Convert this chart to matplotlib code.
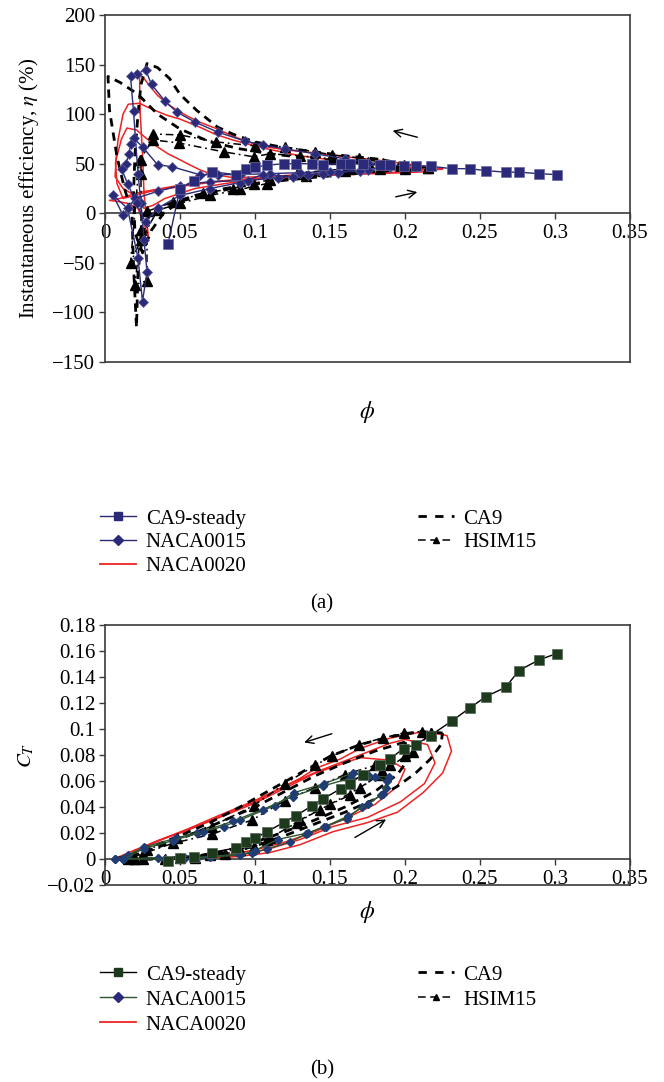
import matplotlib
matplotlib.use("Agg")
import matplotlib.pyplot as plt
from matplotlib.lines import Line2D

plt.rcParams['font.family'] = ['Liberation Serif', 'DejaVu Serif']
plt.rcParams['mathtext.fontset'] = 'stix'
plt.rcParams['font.size'] = 15

# ---------------- data: panel (a) efficiency ----------------
xticks = [0, 0.05, 0.1, 0.15, 0.2, 0.25, 0.3, 0.35]
xtick_labels = ['0', '0.05', '0.1', '0.15', '0.2', '0.25', '0.3', '0.35']
a_yticks = [-150, -100, -50, 0, 50, 100, 150, 200]
a_ytick_labels = ['\u2212150', '\u2212100', '\u221250', '0', '50', '100', '150', '200']
b_yticks = [-0.02, 0, 0.02, 0.04, 0.06, 0.08, 0.1, 0.12, 0.14, 0.16, 0.18]
b_ytick_labels = ['\u22120.02', '0', '0.02', '0.04', '0.06', '0.08', '0.1', '0.12', '0.14', '0.16', '0.18']

steady_phi = [0.042, 0.050, 0.059, 0.071, 0.087, 0.094, 0.100, 0.108, 0.119, 0.127, 0.138, 0.145, 0.157, 0.163,
              0.172, 0.183, 0.190, 0.199, 0.207, 0.217, 0.231, 0.243, 0.254, 0.267, 0.276, 0.289, 0.301]
steady_eta = [-31, 25, 33, 42, 39, 45, 46.5, 48.5, 50, 50, 50, 49, 50, 50,
              49.5, 49, 48.5, 48, 48, 47.5, 45, 45, 43, 41.5, 41.5, 40, 39]
steady_ct = [-0.0015, 0.0008, 0.0016, 0.005, 0.0085, 0.013, 0.016, 0.021, 0.028, 0.033, 0.041, 0.046, 0.054, 0.058,
             0.065, 0.072, 0.077, 0.085, 0.088, 0.095, 0.106, 0.116, 0.125, 0.132, 0.145, 0.153, 0.158]

# NACA0015, panel (a)
n15a1_phi = [0.190, 0.175, 0.160, 0.140, 0.120, 0.105, 0.093, 0.075, 0.060, 0.048, 0.040, 0.031, 0.027, 0.021, 0.017,
             0.019, 0.022, 0.024, 0.026, 0.028, 0.025, 0.022, 0.015, 0.0055, 0.012, 0.020, 0.035, 0.050, 0.070, 0.095,
             0.115, 0.135, 0.155, 0.175, 0.190]
n15a1_eta = [47, 51, 55, 60, 65, 69, 73, 82, 92, 102, 113, 130, 145, 140, 138,
             103, 40, 10, -27, -59, -89, -45, 5, 18, -2, 15, 22, 28, 32, 33,
             36, 39, 41, 44, 47]
n15a2_phi = [0.170, 0.150, 0.130, 0.110, 0.090, 0.075, 0.063, 0.0445, 0.035, 0.025, 0.019, 0.017, 0.016, 0.014, 0.011,
             0.015, 0.021, 0.027, 0.035, 0.050, 0.070, 0.090, 0.105, 0.125, 0.145, 0.170]
n15a2_eta = [43, 42, 41, 40, 39, 39, 39, 47, 49, 67, 76, 70, 60, 50, 45,
             30, 10, -9, 5, 18, 25, 31, 39, 37, 40, 43]

# NACA0020, panel (a)
r_a1_phi = [0.225, 0.200, 0.180, 0.160, 0.140, 0.120, 0.108, 0.095, 0.085, 0.075, 0.063, 0.055, 0.048, 0.041, 0.035,
            0.030, 0.026, 0.023, 0.0235, 0.025, 0.026, 0.028, 0.029, 0.027, 0.022, 0.015, 0.008, 0.003, 0.010, 0.020,
            0.030, 0.045, 0.060, 0.080, 0.100, 0.120, 0.140, 0.160, 0.180, 0.200, 0.215, 0.225]
r_a1_eta = [45, 50, 54, 57, 61, 64, 67, 72, 78, 85, 92, 98, 104, 111, 119,
            128, 136, 140, 100, 60, 20, -10, -25, -15, 5, 10, 12, 13, 15, 20,
            23, 27, 30, 33, 35, 37, 38, 39, 40, 41, 42, 45]
r_a2_phi = [0.215, 0.190, 0.170, 0.150, 0.130, 0.108, 0.095, 0.085, 0.073, 0.063, 0.050, 0.041, 0.033, 0.027, 0.023,
            0.0155, 0.012, 0.0087, 0.007, 0.008, 0.012, 0.020, 0.030, 0.050, 0.070, 0.090, 0.110, 0.130, 0.150, 0.170,
            0.190, 0.215]
r_a2_eta = [44, 48, 51, 54, 58, 65, 70, 74, 80, 87, 95, 99, 104, 108, 111,
            110, 100, 74, 50, 30, 15, 18, 22, 27, 31, 34, 36, 38, 39, 40,
            41, 44]
r_a3_phi = [0.190, 0.170, 0.150, 0.130, 0.108, 0.085, 0.070, 0.063, 0.055, 0.050, 0.042, 0.035, 0.028, 0.021, 0.0146,
            0.011, 0.0075, 0.0067, 0.012, 0.020, 0.026, 0.032, 0.040, 0.060, 0.080, 0.100, 0.130, 0.160, 0.190]
r_a3_eta = [42, 41, 40, 39, 37, 36, 40, 44, 50, 54, 60, 67, 75, 84, 86,
            75, 55, 37, 25, 18, 5, 8, 15, 25, 30, 34, 37, 39, 42]

# CA9, panel (a)
c_a1_phi = [0.220, 0.200, 0.180, 0.160, 0.140, 0.120, 0.100, 0.085, 0.075, 0.061, 0.050, 0.043, 0.035, 0.028, 0.024,
            0.022, 0.020, 0.019, 0.020, 0.025, 0.031, 0.039, 0.050, 0.070, 0.090, 0.110, 0.130, 0.150, 0.170, 0.190,
            0.220]
c_a1_eta = [44, 50, 55, 58, 62, 66, 72, 80, 87, 104, 120, 136, 147, 151, 130,
            100, 60, 20, -20, -40, -17, 0, 12, 20, 27, 32, 36, 39, 41, 43,
            44]
c_a2_phi = [0.200, 0.170, 0.140, 0.110, 0.090, 0.070, 0.050, 0.035, 0.022, 0.010, 0.002, 0.003, 0.008, 0.013, 0.018,
            0.019, 0.021, 0.022, 0.025, 0.030, 0.040, 0.060, 0.080, 0.100, 0.130, 0.160, 0.200]
c_a2_eta = [47, 51, 55, 60, 65, 72, 85, 100, 120, 132, 138, 104, 57, 25, 0,
            -54, -115, -60, -20, 0, 8, 18, 25, 30, 35, 39, 47]

# HSIM15, panel (a)
h_a1_phi = [0.215, 0.199, 0.185, 0.169, 0.151, 0.140, 0.120, 0.100, 0.074, 0.050, 0.032, 0.024, 0.024, 0.024, 0.020,
            0.028, 0.028, 0.045, 0.065, 0.085, 0.099, 0.110, 0.128, 0.145, 0.163, 0.183, 0.200, 0.215]
h_a1_eta = [46, 49, 51, 56, 59, 62, 67, 68, 72, 79, 80, 54, 40, -17, -72,
            -68, 2, 11, 20, 25, 30, 34, 40, 43, 45, 45, 45, 46]
h_a2_phi = [0.200, 0.175, 0.151, 0.130, 0.110, 0.099, 0.079, 0.049, 0.032, 0.023, 0.017, 0.024, 0.035, 0.050, 0.070,
            0.090, 0.108, 0.134, 0.160, 0.200]
h_a2_eta = [48, 52, 55, 58, 60, 57, 62, 71, 74, 54, -50, -27, 3, 10, 18,
            24, 30, 38, 43, 48]

# ---------------- data: panel (b) thrust coefficient ----------------
n15_b1_phi = [0.0067, 0.012, 0.035, 0.053, 0.061, 0.071, 0.090, 0.098, 0.108, 0.123, 0.134, 0.146, 0.161, 0.171, 0.184,
              0.187, 0.189, 0.176, 0.165, 0.146, 0.126, 0.113, 0.090, 0.079, 0.061, 0.047, 0.026, 0.015, 0.0067]
n15_b1_ct = [0, 0, 0.001, 0.0007, 0.001, 0.002, 0.0038, 0.0046, 0.0077, 0.013, 0.019, 0.025, 0.031, 0.040, 0.049,
             0.055, 0.063, 0.064, 0.066, 0.058, 0.051, 0.041, 0.030, 0.025, 0.020, 0.016, 0.009, 0.003, 0]
n15_b2_phi = [0.012, 0.040, 0.070, 0.090, 0.100, 0.115, 0.135, 0.147, 0.162, 0.175, 0.185, 0.188, 0.180, 0.163, 0.145,
              0.125, 0.105, 0.085, 0.065, 0.045, 0.026, 0.012]
n15_b2_ct = [0, 0, 0.0015, 0.003, 0.0065, 0.015, 0.020, 0.025, 0.033, 0.042, 0.050, 0.060, 0.063, 0.062, 0.056,
             0.048, 0.038, 0.029, 0.021, 0.014, 0.008, 0]

r_b1_phi = [0.005, 0.030, 0.050, 0.070, 0.090, 0.110, 0.130, 0.152, 0.175, 0.195, 0.212, 0.225, 0.231, 0.228, 0.212,
            0.190, 0.170, 0.157, 0.141, 0.130, 0.100, 0.075, 0.055, 0.035, 0.020, 0.008, 0.005]
r_b1_ct = [0, 0, 0, 0.0005, 0.002, 0.005, 0.011, 0.021, 0.028, 0.036, 0.051, 0.066, 0.083, 0.095, 0.098,
           0.093, 0.085, 0.077, 0.070, 0.062, 0.045, 0.033, 0.023, 0.014, 0.007, 0.001, 0]
r_b2_phi = [0.012, 0.040, 0.070, 0.090, 0.110, 0.130, 0.152, 0.175, 0.197, 0.213, 0.220, 0.215, 0.200, 0.190, 0.170,
            0.141, 0.120, 0.100, 0.075, 0.055, 0.035, 0.020, 0.012]
r_b2_ct = [0, 0, 0.001, 0.003, 0.008, 0.015, 0.025, 0.032, 0.044, 0.058, 0.074, 0.088, 0.092, 0.089, 0.080,
           0.067, 0.056, 0.044, 0.032, 0.022, 0.014, 0.006, 0]
r_b3_phi = [0.015, 0.050, 0.080, 0.100, 0.120, 0.140, 0.160, 0.180, 0.195, 0.200, 0.190, 0.170, 0.140, 0.100, 0.070,
            0.040, 0.020, 0.015]
r_b3_ct = [0, 0.001, 0.003, 0.007, 0.013, 0.021, 0.031, 0.042, 0.056, 0.069, 0.076, 0.078, 0.066, 0.043, 0.029,
           0.016, 0.006, 0]

c_b1_phi = [0.225, 0.210, 0.190, 0.170, 0.150, 0.130, 0.110, 0.090, 0.070, 0.050, 0.030, 0.015, 0.005, 0.020, 0.040,
            0.060, 0.080, 0.100, 0.120, 0.140, 0.160, 0.180, 0.195, 0.207, 0.217, 0.224, 0.225]
c_b1_ct = [0.097, 0.098, 0.094, 0.088, 0.079, 0.066, 0.053, 0.040, 0.028, 0.018, 0.009, 0.002, 0, 0, 0,
           0.001, 0.004, 0.010, 0.018, 0.027, 0.036, 0.046, 0.056, 0.066, 0.077, 0.088, 0.097]
c_b2_phi = [0.200, 0.180, 0.160, 0.140, 0.120, 0.100, 0.080, 0.060, 0.040, 0.020, 0.010, 0.030, 0.060, 0.080, 0.100,
            0.120, 0.140, 0.160, 0.180, 0.195, 0.203, 0.200]
c_b2_ct = [0.090, 0.083, 0.074, 0.064, 0.052, 0.040, 0.030, 0.020, 0.011, 0.003, 0, 0, 0.002, 0.006, 0.013,
           0.021, 0.030, 0.040, 0.052, 0.065, 0.078, 0.090]

h_b1_phi = [0.217, 0.211, 0.199, 0.185, 0.169, 0.151, 0.140, 0.120, 0.099, 0.071, 0.048, 0.028, 0.019, 0.025, 0.040,
            0.060, 0.080, 0.099, 0.108, 0.128, 0.143, 0.163, 0.183, 0.200, 0.205, 0.217]
h_b1_ct = [0.097, 0.098, 0.097, 0.093, 0.088, 0.079, 0.072, 0.058, 0.041, 0.025, 0.016, 0.007, 0, 0, 0,
           0.001, 0.004, 0.009, 0.015, 0.028, 0.038, 0.049, 0.065, 0.079, 0.082, 0.097]
h_b2_phi = [0.020, 0.050, 0.070, 0.090, 0.110, 0.130, 0.150, 0.170, 0.185, 0.190, 0.180, 0.160, 0.140, 0.120, 0.098,
            0.071, 0.045, 0.025, 0.015]
h_b2_ct = [0, 0.001, 0.003, 0.007, 0.016, 0.030, 0.042, 0.055, 0.066, 0.072, 0.072, 0.065, 0.055, 0.045, 0.030,
           0.019, 0.012, 0.004, 0]

labels = ['CA9-steady', 'NACA0015', 'NACA0020', 'CA9', 'HSIM15']

# ---------------- styles ----------------
NAVY = '#2a2a78'
DKGREEN = '#1d3a1d'
GREEN_LINE = '#2f5530'
DIAMOND_B = '#1f3c74'
RED = '#ee2222'
SPINE = '#3a3a3a'
CA9_DASH = (0, (3.0, 2.2))
HSIM_DASH = (0, (5, 2.5, 1.2, 2.5))

fig = plt.figure(figsize=(6.64, 10.82), dpi=100)
W, H = 664, 1082
ax_a = fig.add_axes([105 / W, 1 - 362 / H, 525 / W, 347 / H])
ax_b = fig.add_axes([105 / W, 1 - 885 / H, 525 / W, 260 / H])


def style_axis(ax, ylim, yticks, ylabels, ylabel, xlabel_y):
    ax.set_xlim(0, 0.35)
    ax.set_ylim(*ylim)
    for s in ['left', 'top', 'right']:
        ax.spines[s].set_color(SPINE)
        ax.spines[s].set_linewidth(1.2)
    ax.spines['bottom'].set_position(('data', 0))
    ax.spines['bottom'].set_color(SPINE)
    ax.spines['bottom'].set_linewidth(1.2)
    ax.plot([0, 1], [0, 0], transform=ax.transAxes, color=SPINE, lw=1.2, clip_on=False, zorder=5)
    ax.set_xticks(xticks)
    ax.set_xticklabels(xtick_labels)
    ax.set_yticks(yticks)
    ax.set_yticklabels(ylabels)
    ax.tick_params(axis='x', direction='out', length=4, width=1, color=SPINE, pad=4, labelsize=15)
    ax.tick_params(axis='y', direction='out', length=4, width=1, color=SPINE, pad=3, labelsize=15)
    ax.set_ylabel(ylabel, fontsize=15, labelpad=8)
    fig.text(367 / W, 1 - xlabel_y / H, r'$\phi$', fontsize=17, ha='center', va='center')


# ---------------- panel (a) ----------------
ax = ax_a
for px, py in [(r_a1_phi, r_a1_eta), (r_a2_phi, r_a2_eta), (r_a3_phi, r_a3_eta)]:
    ax.plot(px, py, color=RED, lw=1.1, zorder=2)
for px, py in [(c_a1_phi, c_a1_eta), (c_a2_phi, c_a2_eta)]:
    ax.plot(px, py, color='black', lw=2.0, linestyle=CA9_DASH, zorder=3)
for px, py in [(h_a1_phi, h_a1_eta), (h_a2_phi, h_a2_eta)]:
    ax.plot(px, py, color='black', lw=1.1, linestyle=HSIM_DASH, marker='^', ms=7,
            mfc='black', mec='black', zorder=4)
for px, py in [(n15a1_phi, n15a1_eta), (n15a2_phi, n15a2_eta)]:
    ax.plot(px, py, color=NAVY, lw=1.0, marker='D', ms=5.5, mfc=NAVY, mec='#5a5aa0', mew=0.5, zorder=5)
ax.plot(steady_phi, steady_eta, color=NAVY, lw=1.0, marker='s', ms=7, mfc=NAVY, mec='#6a6aa8', mew=0.5, zorder=6)
style_axis(ax, (-150, 200), a_yticks, a_ytick_labels, r'Instantaneous efficiency, $\eta$ (%)', 412)
ax.annotate('', xy=(0.190, 84), xytext=(0.21, 76),
            arrowprops=dict(arrowstyle='->', lw=1.0, color='black', mutation_scale=14))
ax.annotate('', xy=(0.21, 22), xytext=(0.192, 16),
            arrowprops=dict(arrowstyle='->', lw=1.0, color='black', mutation_scale=14))

# ---------------- panel (b) ----------------
ax = ax_b
for px, py in [(r_b1_phi, r_b1_ct), (r_b2_phi, r_b2_ct), (r_b3_phi, r_b3_ct)]:
    ax.plot(px, py, color=RED, lw=1.1, zorder=2)
for px, py in [(c_b1_phi, c_b1_ct), (c_b2_phi, c_b2_ct)]:
    ax.plot(px, py, color='black', lw=2.0, linestyle=CA9_DASH, zorder=3)
for px, py in [(h_b1_phi, h_b1_ct), (h_b2_phi, h_b2_ct)]:
    ax.plot(px, py, color='black', lw=1.1, linestyle=HSIM_DASH, marker='^', ms=6.5,
            mfc='black', mec='black', zorder=4)
for px, py in [(n15_b1_phi, n15_b1_ct), (n15_b2_phi, n15_b2_ct)]:
    ax.plot(px, py, color=GREEN_LINE, lw=1.0, marker='D', ms=4.5, mfc=DIAMOND_B, mec=DIAMOND_B, zorder=5)
ax.plot(steady_phi, steady_ct, color='black', lw=1.0, marker='s', ms=7, mfc=DKGREEN, mec='#556655', mew=0.5, zorder=6)
style_axis(ax, (-0.02, 0.18), b_yticks, b_ytick_labels, r'$C_T$', 912)
ax.annotate('', xy=(0.131, 0.089), xytext=(0.153, 0.097),
            arrowprops=dict(arrowstyle='->', lw=1.0, color='black', mutation_scale=14))
ax.annotate('', xy=(0.189, 0.0315), xytext=(0.165, 0.0155),
            arrowprops=dict(arrowstyle='->', lw=1.0, color='black', mutation_scale=14))


# ---------------- legends ----------------
def legend_handles(steady_face, steady_line, n15_line, n15_face):
    return [
        Line2D([], [], color=steady_line, lw=1.0, marker='s', ms=6, mfc=steady_face, mec=steady_face),
        Line2D([], [], color=n15_line, lw=1.0, marker='D', ms=5, mfc=n15_face, mec=n15_face),
        Line2D([], [], color=RED, lw=1.3),
        Line2D([], [], color='black', lw=2.0, linestyle=(0, (3.0, 3.0))),
        Line2D([], [], color='black', lw=1.1, linestyle=(0, (5, 3)), marker='^', ms=5, mfc='black'),
    ]


for handles, ytop, lsp in [(legend_handles(NAVY, NAVY, NAVY, NAVY), 509, 0.2),
                           (legend_handles(DKGREEN, 'black', GREEN_LINE, NAVY), 965, 0.26)]:
    fig.legend(handles, labels, loc='upper left', bbox_to_anchor=(100 / W, 1 - ytop / H),
               ncol=2, frameon=False, fontsize=15, handlelength=1.75, handletextpad=0.45,
               columnspacing=8.2, labelspacing=lsp, borderpad=0, borderaxespad=0)

fig.text(322 / W, 1 - 604 / H, '(a)', ha='center', va='center', fontsize=15)
fig.text(322 / W, 1 - 1070 / H, '(b)', ha='center', va='center', fontsize=15)

fig.savefig('out.png', dpi=100)
